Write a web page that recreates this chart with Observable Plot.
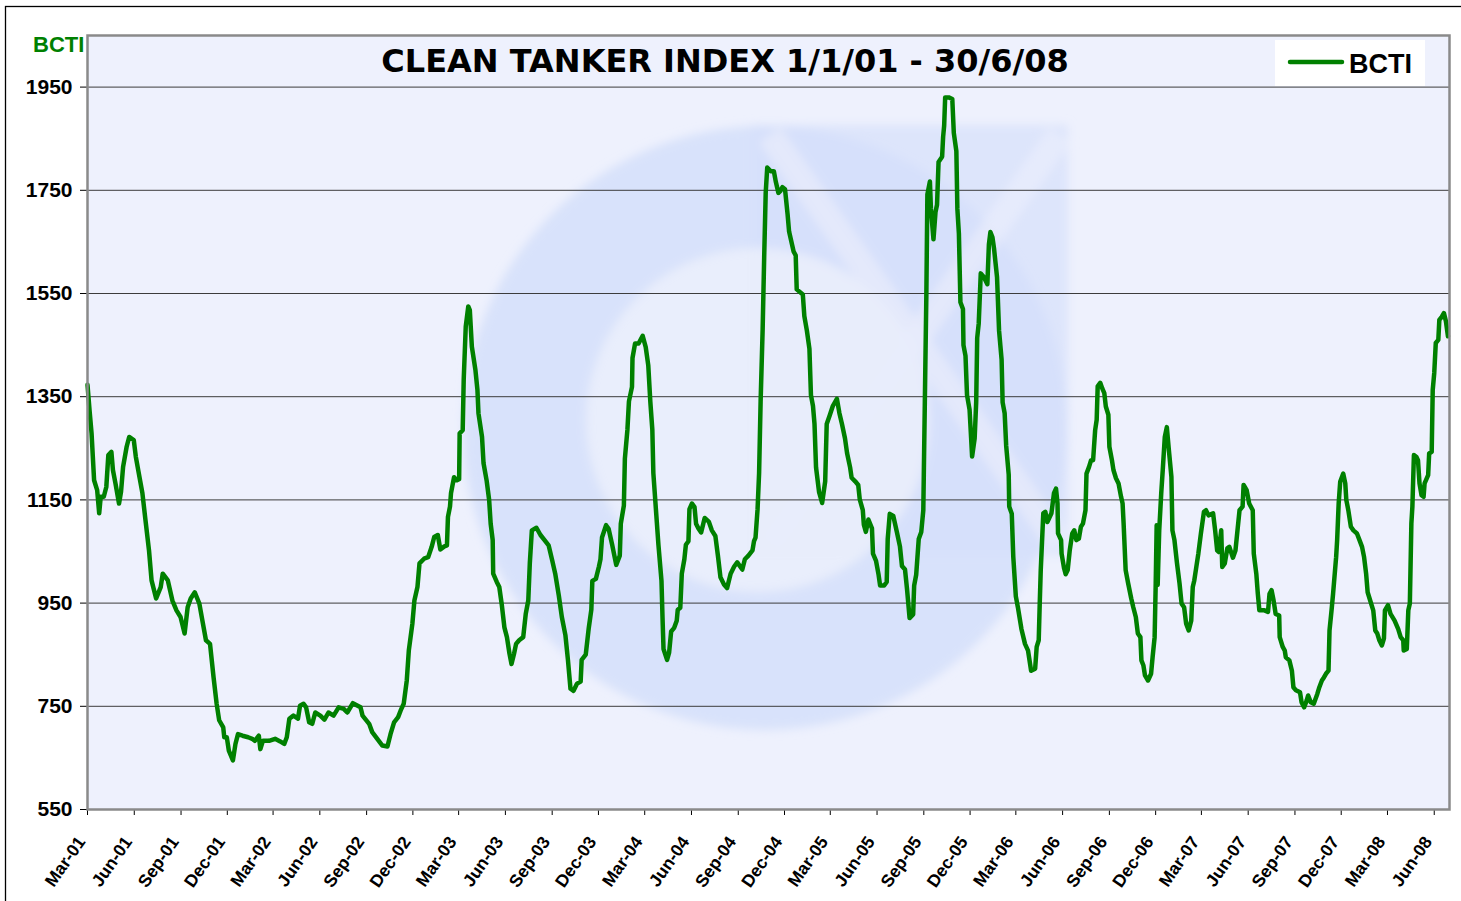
<!DOCTYPE html>
<html><head><meta charset="utf-8">
<script src="https://cdn.jsdelivr.net/npm/d3@7"></script>
<script src="https://cdn.jsdelivr.net/npm/@observablehq/plot@0.6"></script>
<style>body{margin:0;background:#fff;} #chart svg{display:block;}</style>
</head><body><div id="chart"></div>
<script>
const seriesName = "BCTI";
const title = "CLEAN TANKER INDEX 1/1/01 - 30/6/08";
const yTicks = [550, 750, 950, 1150, 1350, 1550, 1750, 1950];
const xTicks = ["2001-03-01","2001-06-01","2001-09-01","2001-12-01","2002-03-01","2002-06-01","2002-09-01","2002-12-01",
  "2003-03-01","2003-06-01","2003-09-01","2003-12-01","2004-03-01","2004-06-01","2004-09-01","2004-12-01",
  "2005-03-01","2005-06-01","2005-09-01","2005-12-01","2006-03-01","2006-06-01","2006-09-01","2006-12-01",
  "2007-03-01","2007-06-01","2007-09-01","2007-12-01","2008-03-01","2008-06-01"];

const dates = [
"2001-03-01","2001-03-05","2001-03-09","2001-03-14","2001-03-20","2001-03-24","2001-03-27","2001-04-02","2001-04-07","2001-04-11","2001-04-17","2001-04-20","2001-04-25","2001-05-02","2001-05-06","2001-05-10","2001-05-17","2001-05-22","2001-05-31","2001-06-04","2001-06-10","2001-06-17","2001-06-23","2001-06-30","2001-07-05","2001-07-14","2001-07-23","2001-07-27","2001-08-06","2001-08-15","2001-08-23","2001-08-31","2001-09-08","2001-09-14","2001-09-20","2001-09-28","2001-10-07","2001-10-13","2001-10-20","2001-10-28","2001-11-04","2001-11-10","2001-11-15","2001-11-23","2001-11-25","2001-11-30","2001-12-04","2001-12-12","2001-12-17","2001-12-22","2001-12-31",
"2002-01-11","2002-01-19","2002-01-24","2002-02-01","2002-02-04","2002-02-09","2002-02-21","2002-03-05","2002-03-15","2002-03-23","2002-03-28","2002-04-02","2002-04-10","2002-04-19","2002-04-23","2002-04-30","2002-05-05","2002-05-11","2002-05-17","2002-05-23","2002-06-02","2002-06-10","2002-06-18","2002-06-28","2002-07-08","2002-07-18","2002-07-25","2002-08-05","2002-08-20","2002-08-24","2002-09-06","2002-09-12","2002-09-22","2002-10-02","2002-10-12","2002-10-18","2002-10-25","2002-11-02","2002-11-07","2002-11-13","2002-11-19","2002-11-23","2002-11-30","2002-12-04","2002-12-10","2002-12-14","2002-12-23","2002-12-31",
"2003-01-07","2003-01-12","2003-01-19","2003-01-24","2003-02-01","2003-02-06","2003-02-08","2003-02-12","2003-02-14","2003-02-20","2003-02-25","2003-03-02","2003-03-03","2003-03-09","2003-03-11","2003-03-15","2003-03-20","2003-03-23","2003-03-27","2003-04-03","2003-04-07","2003-04-09","2003-04-16","2003-04-19","2003-04-25","2003-04-30","2003-05-03","2003-05-07","2003-05-08","2003-05-15","2003-05-20","2003-05-25","2003-05-30","2003-06-04","2003-06-09","2003-06-13","2003-06-18","2003-06-22","2003-06-28","2003-07-06","2003-07-11","2003-07-16","2003-07-19","2003-07-23","2003-08-01","2003-08-09","2003-08-17","2003-08-25","2003-09-01","2003-09-07","2003-09-14","2003-09-20","2003-09-27","2003-10-02","2003-10-07","2003-10-13","2003-10-20","2003-10-27","2003-10-29","2003-11-06","2003-11-12","2003-11-17","2003-11-19","2003-11-26","2003-12-02","2003-12-05","2003-12-08","2003-12-16","2003-12-21","2003-12-28",
"2004-01-05","2004-01-12","2004-01-14","2004-01-20","2004-01-22","2004-01-27","2004-01-30","2004-02-05","2004-02-06","2004-02-11","2004-02-18","2004-02-26","2004-03-03","2004-03-08","2004-03-12","2004-03-16","2004-03-18","2004-03-22","2004-03-28","2004-04-03","2004-04-05","2004-04-07","2004-04-14","2004-04-18","2004-04-22","2004-04-28","2004-05-03","2004-05-05","2004-05-10","2004-05-13","2004-05-18","2004-05-21","2004-05-26","2004-05-28","2004-06-02","2004-06-07","2004-06-10","2004-06-15","2004-06-20","2004-06-27","2004-07-05","2004-07-11","2004-07-18","2004-07-23","2004-07-28","2004-08-04","2004-08-10","2004-08-17","2004-08-24","2004-08-30","2004-09-09","2004-09-14","2004-09-21","2004-09-29","2004-10-02","2004-10-05","2004-10-09","2004-10-12","2004-10-15","2004-10-19","2004-10-22","2004-10-25","2004-10-28","2004-11-04","2004-11-10","2004-11-14","2004-11-19","2004-11-23","2004-11-27","2004-12-02","2004-12-07","2004-12-10","2004-12-19","2004-12-23","2004-12-25",
"2005-01-06","2005-01-09","2005-01-14","2005-01-19","2005-01-22","2005-01-26","2005-01-29","2005-02-01","2005-02-07","2005-02-13","2005-02-19","2005-02-22","2005-02-28","2005-03-06","2005-03-14","2005-03-19","2005-03-24","2005-03-30","2005-04-03","2005-04-09","2005-04-12","2005-04-19","2005-04-25","2005-04-28","2005-05-04","2005-05-06","2005-05-10","2005-05-15","2005-05-22","2005-05-24","2005-05-30","2005-06-04","2005-06-07","2005-06-15","2005-06-20","2005-06-22","2005-06-26","2005-07-03","2005-07-10","2005-07-16","2005-07-20","2005-07-26","2005-07-30","2005-08-04","2005-08-11","2005-08-13","2005-08-17","2005-08-22","2005-08-27","2005-08-31","2005-09-01","2005-09-03","2005-09-06","2005-09-08","2005-09-13","2005-09-15","2005-09-20","2005-09-24","2005-09-27","2005-09-30","2005-10-07","2005-10-09","2005-10-11","2005-10-13","2005-10-20","2005-10-27","2005-10-30","2005-11-04","2005-11-06","2005-11-09","2005-11-12","2005-11-17","2005-11-18","2005-11-22","2005-11-25","2005-11-30","2005-12-05","2005-12-10","2005-12-13","2005-12-15","2005-12-18","2005-12-22","2005-12-28",
"2006-01-04","2006-01-07","2006-01-10","2006-01-14","2006-01-17","2006-01-23","2006-01-27","2006-02-01","2006-02-03","2006-02-07","2006-02-10","2006-02-15","2006-02-16","2006-02-21","2006-02-24","2006-03-01","2006-03-05","2006-03-12","2006-03-19","2006-03-25","2006-03-31","2006-04-08","2006-04-11","2006-04-15","2006-04-17","2006-04-19","2006-04-24","2006-04-28","2006-05-02","2006-05-10","2006-05-15","2006-05-19","2006-05-22","2006-05-23","2006-05-29","2006-05-30","2006-06-04","2006-06-07","2006-06-11","2006-06-15","2006-06-20","2006-06-24","2006-06-28","2006-07-03","2006-07-07","2006-07-11","2006-07-16","2006-07-18","2006-07-23","2006-07-27","2006-07-31","2006-08-04","2006-08-07","2006-08-09","2006-08-14","2006-08-18","2006-08-22","2006-08-25","2006-08-30","2006-09-01","2006-09-06","2006-09-09","2006-09-14","2006-09-19","2006-09-24","2006-09-27","2006-09-29","2006-10-03","2006-10-08","2006-10-14","2006-10-18","2006-10-23","2006-10-27","2006-11-01","2006-11-03","2006-11-07","2006-11-10","2006-11-16","2006-11-22","2006-11-25","2006-11-29","2006-12-01","2006-12-03","2006-12-05","2006-12-08","2006-12-12","2006-12-15","2006-12-19","2006-12-23","2006-12-27",
"2007-01-01","2007-01-03","2007-01-07","2007-01-12","2007-01-17","2007-01-21","2007-01-26","2007-01-30","2007-02-04","2007-02-09","2007-02-12","2007-02-15","2007-02-19","2007-02-23","2007-02-28","2007-03-06","2007-03-10","2007-03-15","2007-03-24","2007-03-28","2007-04-01","2007-04-04","2007-04-09","2007-04-11","2007-04-16","2007-04-21","2007-04-25","2007-05-02","2007-05-07","2007-05-11","2007-05-15","2007-05-21","2007-05-23","2007-05-29","2007-06-03","2007-06-10","2007-06-12","2007-06-17","2007-06-20","2007-06-23","2007-07-03","2007-07-10","2007-07-13","2007-07-17","2007-07-21","2007-07-25","2007-08-01","2007-08-02","2007-08-08","2007-08-12","2007-08-14","2007-08-21","2007-08-26","2007-08-29","2007-09-03","2007-09-11","2007-09-14","2007-09-19","2007-09-24","2007-09-27","2007-10-02","2007-10-08","2007-10-15","2007-10-19","2007-10-24","2007-10-28","2007-11-01","2007-11-06","2007-11-08","2007-11-12","2007-11-15","2007-11-21","2007-11-23","2007-11-26","2007-11-29","2007-12-05","2007-12-09","2007-12-11","2007-12-15","2007-12-20","2007-12-25",
"2008-01-01","2008-01-06","2008-01-11","2008-01-15","2008-01-19","2008-01-22","2008-01-27","2008-02-02","2008-02-06","2008-02-10","2008-02-14","2008-02-19","2008-02-23","2008-02-25","2008-03-02","2008-03-07","2008-03-15","2008-03-22","2008-03-27","2008-04-01","2008-04-02","2008-04-08","2008-04-11","2008-04-14","2008-04-17","2008-04-19","2008-04-22","2008-04-27","2008-04-30","2008-05-03","2008-05-07","2008-05-11","2008-05-13","2008-05-20","2008-05-22","2008-05-27","2008-05-29","2008-06-01","2008-06-04","2008-06-09","2008-06-11","2008-06-16","2008-06-20","2008-06-24","2008-06-28"];

const bcti = [
1373,1324,1279,1188,1169,1124,1156,1156,1175,1237,1243,1208,1182,1143,1166,1214,1253,1272,1266,1234,1201,1163,1111,1052,994,959,981,1007,994,955,936,923,891,942,959,971,949,916,878,871,806,755,723,709,690,690,664,645,677,696,693,
690,687,683,693,667,683,683,687,682,677,690,726,732,726,751,755,748,719,716,738,732,724,738,732,748,745,738,756,748,732,716,700,687,674,672,696,719,729,742,755,800,858,910,955,981,1027,1036,1039,
1059,1078,1082,1054,1060,1062,1117,1137,1163,1194,1188,1190,1279,1285,1383,1486,1525,1518,1447,1402,1363,1318,1272,1221,1188,1150,1104,1072,1007,991,981,946,903,884,852,832,852,871,878,884,929,955,1027,1091,1096,1082,1072,1062,1033,1007,965,923,888,840,784,780,794,798,840,850,902,937,993,997,1021,1035,1077,1101,1094,1063,
1024,1042,1104,1139,1230,1286,1341,1369,1425,1453,1453,1468,1446,1411,1341,1286,1202,1146,1063,993,923,861,840,854,895,902,916,937,941,1007,1035,1063,1070,1132,1143,1136,1104,1094,1087,1115,1108,1091,1080,1042,1000,986,979,1007,1021,1029,1015,1035,1042,1052,1070,1077,1132,1202,1341,1481,1620,1745,1794,1787,1787,1766,1745,1749,1756,1752,1704,1670,1631,1624,1558,
1548,1506,1478,1443,1353,1332,1297,1213,1165,1144,1186,1297,1314,1332,1346,1318,1297,1269,1241,1213,1193,1186,1179,1151,1130,1102,1088,1112,1095,1046,1032,1005,984,984,991,1074,1123,1119,1088,1060,1022,1015,977,921,928,984,1005,1074,1088,1130,1199,1339,1548,1742,1767,1714,1655,1708,1722,1805,1815,1854,1875,1930,1930,1927,1861,1826,1714,1666,1533,1520,1450,1429,1353,1325,1234,1269,1339,1464,1492,1589,1582,
1568,1645,1669,1659,1638,1582,1478,1422,1339,1318,1255,1199,1137,1123,1039,963,942,900,871,858,819,823,865,878,949,1014,1124,1127,1107,1124,1163,1172,1143,1085,1072,1046,1017,1006,1014,1052,1085,1091,1072,1075,1098,1104,1130,1201,1214,1227,1227,1285,1305,1370,1377,1366,1357,1331,1315,1253,1227,1208,1192,1182,1156,1143,1104,1014,988,959,942,923,891,884,839,829,810,800,813,845,884,981,1101,985,1090,1163,1208,1272,1291,1247,
1195,1091,1072,1027,988,949,942,910,897,916,981,994,1020,1046,1085,1127,1130,1120,1124,1091,1052,1049,1091,1020,1027,1056,1059,1038,1052,1091,1130,1137,1179,1169,1143,1130,1046,1007,968,936,936,933,968,975,955,929,926,884,865,858,845,839,819,787,781,777,758,748,761,771,758,755,774,787,800,806,813,819,897,936,968,1039,1072,1143,1185,1201,1182,1150,1130,1098,1091,
1085,1072,1059,1039,1007,971,955,936,897,891,878,868,881,936,946,929,916,900,884,878,858,861,936,949,1104,1137,1237,1233,1227,1182,1159,1156,1182,1198,1240,1243,1363,1396,1454,1460,1499,1505,1512,1496,1467];

const data = dates.map((d, i) => ({date: new Date(d + "T00:00:00Z"), value: bcti[i]}));
const xTickDates = xTicks.map(d => new Date(d + "T00:00:00Z"));

const W = 1461, H = 901, mL = 87, mR = 12, mT = 35, mB = 92;
const green = "#008000";
const sans = "'Liberation Sans', Arial, sans-serif";

const chart = Plot.plot({
  width: W, height: H,
  marginLeft: mL, marginRight: mR, marginTop: mT, marginBottom: mB,
  style: {fontFamily: sans, fontWeight: "bold", background: "white", color: "#000", overflow: "visible"},
  x: {type: "utc", domain: [new Date("2001-03-01T00:00:00Z"), new Date("2008-07-01T00:00:00Z")]},
  y: {domain: [550, 2050]},
  marks: [
    Plot.frame({fill: "#eef1fd", stroke: "none"}),
    Plot.gridY(yTicks, {stroke: "#3c3c3c", strokeOpacity: 1, strokeWidth: 1}),
    Plot.line(data, {x: "date", y: "value", stroke: green, strokeWidth: 4.5, strokeLinejoin: "round", strokeLinecap: "round"}),
    Plot.axisY(yTicks, {tickSize: 7, tickPadding: 8, fontSize: 21, label: null, stroke: "#000", tickFormat: d3.format("d")}),
    // tick marks
    Plot.axisX(xTickDates, {tickSize: 6, tickFormat: () => "", label: null, stroke: "#000"}),
    // rotated tick labels
    Plot.axisX(xTickDates, {tickSize: 0, tickPadding: 26, tickRotate: -55, fontSize: 17.5, tickFormat: d3.utcFormat("%b-%y"), label: null, dx: -6, dy: 3}),
    Plot.frame({stroke: "#8a8a8a", strokeWidth: 2.5})
  ]
});

const svg = d3.select(chart);
const ns = "http://www.w3.org/2000/svg";

// faint watermark logo behind the line
const defs = svg.insert("defs", ":first-child");
defs.append("filter").attr("id", "wmblur").attr("x", "-20%").attr("y", "-20%").attr("width", "140%").attr("height", "140%")
  .append("feGaussianBlur").attr("stdDeviation", 5);
defs.append("clipPath").attr("id", "plotclip").append("rect")
  .attr("x", mL).attr("y", mT).attr("width", W - mL - mR).attr("height", H - mT - mB);
const frameEl = chart.querySelector('[aria-label="frame"]');
const wm = document.createElementNS(ns, "g");
frameEl.after(wm);
const wmg = d3.select(wm).attr("clip-path", "url(#plotclip)").append("g").attr("filter", "url(#wmblur)");
wmg.append("circle").attr("cx", 765).attr("cy", 428).attr("r", 302).attr("fill", "#d3defa").attr("opacity", 0.8);
wmg.append("rect").attr("x", 752).attr("y", 125).attr("width", 316).attr("height", 430).attr("fill", "#d6e0fb").attr("opacity", 0.7);
wmg.append("circle").attr("cx", 758).attr("cy", 420).attr("r", 172).attr("fill", "#eaeefc").attr("opacity", 0.9);
wmg.append("line").attr("x1", 770).attr("y1", 135).attr("x2", 1060).attr("y2", 545).attr("stroke", "#e8ecfc").attr("stroke-width", 26).attr("opacity", 0.8);
wmg.append("line").attr("x1", 1060).attr("y1", 135).attr("x2", 770).attr("y2", 545).attr("stroke", "#e8ecfc").attr("stroke-width", 26).attr("opacity", 0.8);

// outer border
svg.append("rect").attr("x", 5.5).attr("y", 6.5).attr("width", 1500).attr("height", 1000)
  .attr("fill", "none").attr("stroke", "#000").attr("stroke-width", 1.3);

// title
svg.append("text").attr("x", 725).attr("y", 72).attr("text-anchor", "middle")
  .attr("font-family", "'DejaVu Sans', Verdana, sans-serif").attr("font-weight", "bold").attr("font-size", 32)
  .attr("fill", "#000").text(title);

// axis caption (series name) at top-left
svg.append("text").attr("x", 33).attr("y", 52).attr("text-anchor", "start")
  .attr("font-family", sans).attr("font-weight", "bold").attr("font-size", 22)
  .attr("fill", green).text(seriesName);

// legend
const lg = svg.append("g");
lg.append("rect").attr("x", 1275).attr("y", 40).attr("width", 150).attr("height", 46).attr("fill", "#fff");
lg.append("line").attr("x1", 1290).attr("x2", 1342).attr("y1", 62).attr("y2", 62)
  .attr("stroke", green).attr("stroke-width", 4.5).attr("stroke-linecap", "round");
lg.append("text").attr("x", 1349).attr("y", 73).attr("text-anchor", "start")
  .attr("font-family", sans).attr("font-weight", "bold").attr("font-size", 27)
  .attr("fill", "#000").text(seriesName);

document.getElementById("chart").appendChild(chart);
</script>
</body></html>
